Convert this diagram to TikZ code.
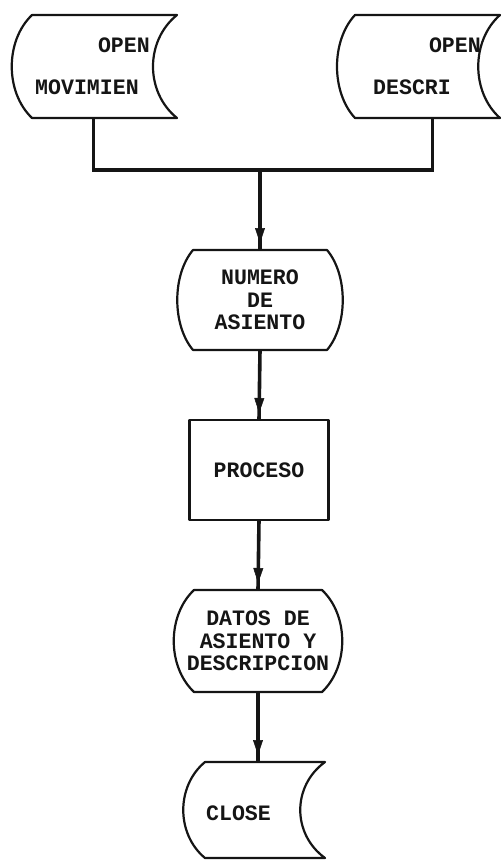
\documentclass[tikz,border=0pt]{standalone}
\usepackage{fontspec}
\newfontfamily\dotfont[FakeStretch=0.98]{Liberation Mono}
\usetikzlibrary{arrows.meta, calc, decorations.markings}
\definecolor{inkblack}{HTML}{151515}

% stored data outline: node, left bulge, right dent
\newcommand\storeedge[3]{%
  \draw[outline] (#1.north west) -- (#1.north east)
    .. controls ($(#1.north east)!0.25!(#1.south east)+(-#3,0)$)
    and ($(#1.north east)!0.75!(#1.south east)+(-#3,0)$) .. (#1.south east)
    -- (#1.south west)
    .. controls ($(#1.south west)!0.25!(#1.north west)+(-#2,0)$)
    and ($(#1.south west)!0.75!(#1.north west)+(-#2,0)$) .. cycle;}

% display outline: node, bulge on both sides
\newcommand\dispedge[2]{%
  \draw[outline] (#1.north west) -- (#1.north east)
    .. controls ($(#1.north east)!0.25!(#1.south east)+(#2,0)$)
    and ($(#1.north east)!0.75!(#1.south east)+(#2,0)$) .. (#1.south east)
    -- (#1.south west)
    .. controls ($(#1.south west)!0.25!(#1.north west)+(-#2,0)$)
    and ($(#1.south west)!0.75!(#1.north west)+(-#2,0)$) .. cycle;}

\begin{document}
\begin{tikzpicture}[x=1pt, y=-1pt,
  frame/.style={inner sep=0pt, outer sep=0pt},
  outline/.style={draw=inkblack, line width=2.2pt, line join=round},
  wire/.style={draw=inkblack, line width=3.6pt, line join=miter},
  flow/.style={wire, postaction={decorate}, decoration={markings,
    mark=at position -7pt with {\arrow{Triangle[length=15pt,width=10pt,line width=0.5pt]}}}},
  lbl/.style={font=\dotfont\bfseries\fontsize{22}{22.5}\selectfont, text=inkblack,
    align=center, inner sep=0pt}]
  \useasboundingbox (0,0) rectangle (502,862);

  % Input files
  \node[frame, minimum width=145pt, minimum height=103pt] (movimien) at (104.5,66.5) {};
  \storeedge{movimien}{27pt}{32pt}
  \node[lbl, anchor=east] (movimienOpen) at (150,45) {OPEN};
  \node[lbl, anchor=west] (movimienName) at (35,87) {MOVIMIEN};

  \node[frame, minimum width=145pt, minimum height=103pt] (descri) at (427.5,66.5) {};
  \storeedge{descri}{24pt}{29pt}
  \node[lbl, anchor=east] (descriOpen) at (481,45) {OPEN};
  \node[lbl, anchor=west] (descriName) at (373,87) {DESCRI};

  % Reading the seat number
  \node[frame, lbl, minimum width=134pt, minimum height=100pt] (numero) at (260,300)
    {NUMERO\\DE\\ASIENTO};
  \dispedge{numero}{21pt}

  % Processing
  \node[frame, lbl, outline, minimum width=139pt, minimum height=100pt] (proceso) at (259,470)
    {PROCESO};

  % Output of seat data
  \node[frame, minimum width=128pt, minimum height=102pt] (datos) at (258,641) {};
  \dispedge{datos}{27pt}
  \node[lbl] (datosText) at (datos) {DATOS DE\\ASIENTO Y\\DESCRIPCION};

  % Closing the files
  \node[frame, minimum width=120pt, minimum height=96pt] (close) at (265,810) {};
  \storeedge{close}{29pt}{33pt}
  \node[lbl] (closeText) at (238.5,813) {CLOSE};

  % Connectors
  \coordinate (bus) at (260,170);
  \draw[wire] ([xshift=-11pt]movimien.south) |- (bus) -| ([xshift=5pt]descri.south);
  \draw[flow] (bus) -- (numero.north);
  \draw[flow] (numero.south) -- (proceso.north);
  \draw[flow] (proceso.south) -- (datos.north);
  \draw[flow] (datos.south) -- (datos.south |- close.north);
\end{tikzpicture}
\end{document}
